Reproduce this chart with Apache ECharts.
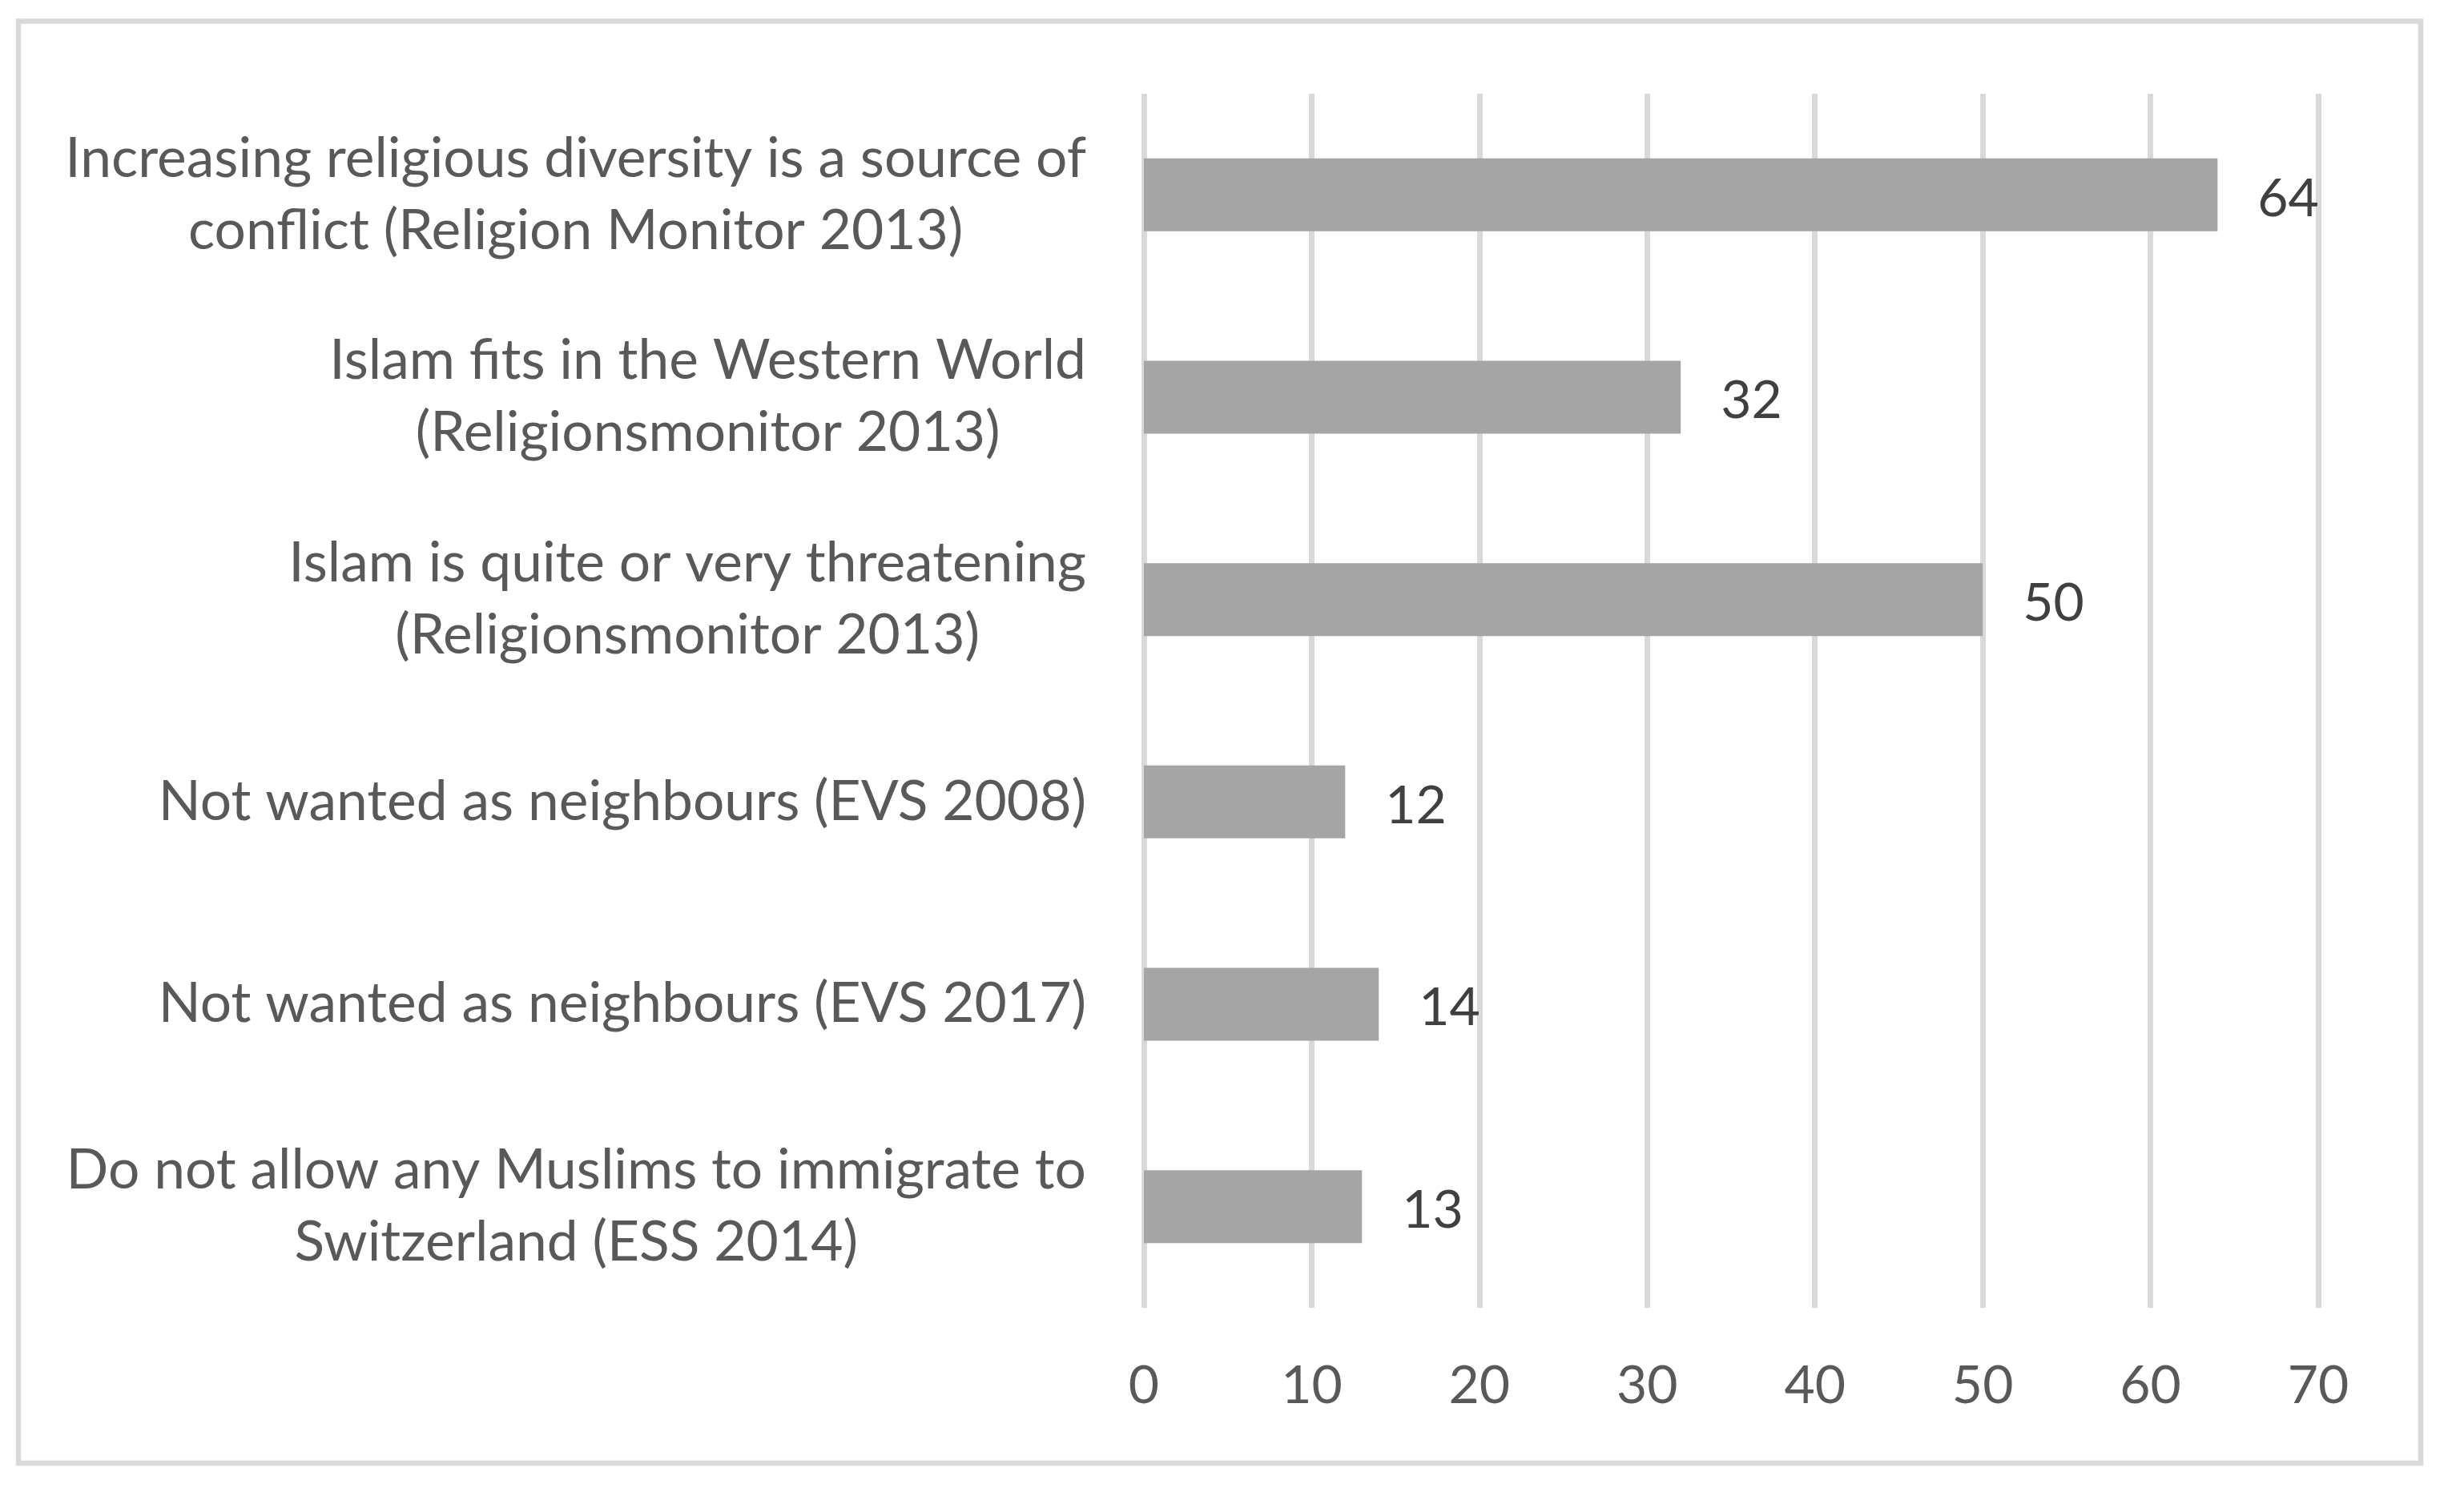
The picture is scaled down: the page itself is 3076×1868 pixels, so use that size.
<!DOCTYPE html>
<html>
<head>
<meta charset="utf-8">
<script src="https://cdn.jsdelivr.net/npm/echarts@6/dist/echarts.min.js"></script>
<style>
html,body{margin:0;padding:0;background:#fff;}
#chart{width:3076px;height:1868px;}
</style>
</head>
<body>
<div id="chart"></div>
<script>
const categories = [
  "Increasing religious diversity is a source of\nconflict (Religion Monitor 2013)",
  "Islam fits in the Western World\n(Religionsmonitor 2013)",
  "Islam is quite or very threatening\n(Religionsmonitor 2013)",
  "Not wanted as neighbours (EVS 2008)",
  "Not wanted as neighbours (EVS 2017)",
  "Do not allow any Muslims to immigrate to\nSwitzerland (ESS 2014)"
];
const values = [64, 32, 50, 12, 14, 13];
const xTicks = [0, 10, 20, 30, 40, 50, 60, 70];

const FONT = 'Lato';
const FS = 66;
const FS_CAT = 69.5;

const chart = echarts.init(document.getElementById('chart'), null, {renderer: 'canvas'});
chart.setOption({
  backgroundColor: '#ffffff',
  animation: false,
  grid: {left: 1428, right: 182, top: 117, bottom: 235, containLabel: false},
  graphic: [{
    type: 'rect',
    shape: {x: 23, y: 26.5, width: 2999, height: 1800.5},
    style: {fill: 'none', stroke: '#d9d9d9', lineWidth: 6.5}
  }],
  xAxis: {
    type: 'value',
    min: xTicks[0],
    max: xTicks[xTicks.length - 1],
    interval: xTicks[1] - xTicks[0],
    axisLine: {show: false},
    axisTick: {show: false},
    splitLine: {show: true, lineStyle: {color: '#d9d9d9', width: 7}},
    axisLabel: {color: '#595959', fontFamily: FONT, fontSize: FS, margin: 65}
  },
  yAxis: {
    type: 'category',
    data: categories,
    inverse: true,
    axisLine: {show: false},
    axisTick: {show: false},
    axisLabel: {
      margin: 72,
      color: '#595959',
      fontFamily: FONT,
      fontSize: FS_CAT,
      lineHeight: 90,
      formatter: function (v) { return '{c|' + v + '}'; },
      rich: {c: {align: 'center', color: '#595959', fontFamily: FONT, fontSize: FS_CAT, lineHeight: 90}}
    }
  },
  series: [{
    type: 'bar',
    data: values,
    barCategoryGap: '64%',
    itemStyle: {color: '#a5a5a5'},
    label: {
      show: true,
      position: 'right',
      distance: 50,
      offset: [0, 5],
      color: '#404040',
      fontFamily: FONT,
      fontSize: FS
    }
  }]
});
</script>
</body>
</html>
